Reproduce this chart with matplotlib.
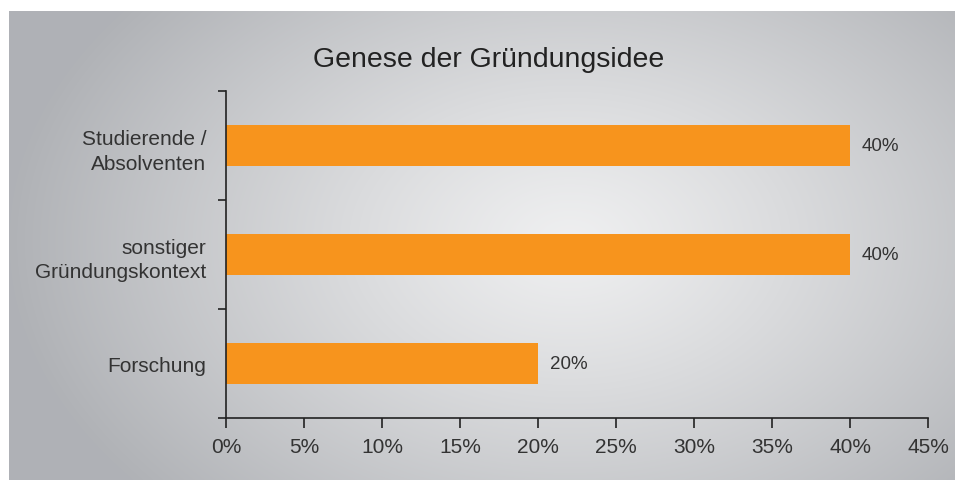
import matplotlib
matplotlib.use("Agg")
import matplotlib.pyplot as plt
import numpy as np

TITLE = "Genese der Gründungsidee"
CATEGORIES = ["Forschung", "sonstiger\nGründungskontext", "Studierende /\nAbsolventen"]
VALUES = [20, 40, 40]
XTICKS = [0, 5, 10, 15, 20, 25, 30, 35, 40, 45]

BAR_COLOR = "#f7941d"
TEXT_COLOR = "#333333"
AXIS_COLOR = "#222222"

plt.rcParams["font.family"] = ["Liberation Sans", "DejaVu Sans"]

W, H = 955, 481
fig = plt.figure(figsize=(W / 100, H / 100), dpi=100)
fig.patch.set_facecolor("white")

# radial gradient panel
bg = fig.add_axes([9 / W, 0, 1 - 9 / W, (H - 12) / H])
yy, xx = np.mgrid[0:H - 12, 0:W - 9]
d = np.sqrt(((xx - 560) / 560) ** 2 + ((yy - 230) / 380) ** 2)
d = np.clip(d, 0, 1)
light = np.array([0.935, 0.937, 0.941])
dark = np.array([0.69, 0.698, 0.714])
img = light + (dark - light) * d[..., None] ** 1.2
bg.imshow(img, aspect="auto", interpolation="bilinear")
bg.axis("off")

# plot area: x 226..928, y 92..419
ax = fig.add_axes([226 / W, 1 - 419 / H, (928 - 226) / W, (419 - 92) / H])
ax.patch.set_alpha(0)

pos = np.arange(len(CATEGORIES))
ax.barh(pos, VALUES, height=0.38, color=BAR_COLOR, zorder=2)
for p, v in zip(pos, VALUES):
    ax.text(v + 0.75, p, f"{v}%", va="center", ha="left", fontsize=13.5, color=TEXT_COLOR)

ax.set_xlim(0, 45)
ax.set_ylim(-0.5, 2.5)
ax.set_xticks(XTICKS)
ax.set_xticklabels([f"{t}%" for t in XTICKS], fontsize=15, color=TEXT_COLOR)
ax.set_yticks([-0.5, 0.5, 1.5, 2.5])
ax.set_yticklabels([])
ax.set_yticks(pos, minor=True)
ax.set_yticklabels(CATEGORIES, minor=True, fontsize=15, color=TEXT_COLOR,
                   ha="right", multialignment="right", linespacing=1.4)
ax.tick_params(axis="y", which="minor", length=0, pad=14)
ax.tick_params(axis="y", which="major", length=6, width=1.2, color=AXIS_COLOR)
ax.tick_params(axis="x", length=7, width=1.2, color=AXIS_COLOR, pad=7)

for side in ["top", "right"]:
    ax.spines[side].set_visible(False)
for side in ["left", "bottom"]:
    ax.spines[side].set_color(AXIS_COLOR)
    ax.spines[side].set_linewidth(1.2)

fig.text(489 / W, 1 - 60 / H, TITLE, ha="center", va="center", fontsize=20.5, color="#222222")

fig.savefig("out.png", dpi=100)
